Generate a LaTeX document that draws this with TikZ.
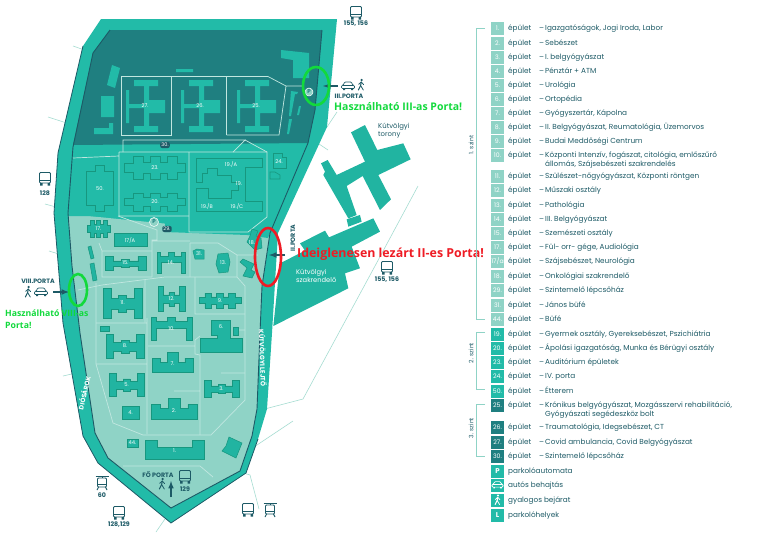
\documentclass[tikz,border=0pt]{standalone}
\usepackage{fontspec}
\setmainfont{Poppins}
\newfontfamily\notefont{Open Sans}
\definecolor{darkz}{HTML}{1F7F80}
\definecolor{midz}{HTML}{22BBA8}
\definecolor{lightz}{HTML}{8FD3C6}
\definecolor{inkc}{HTML}{1D5A66}
\definecolor{linec}{HTML}{17977F}
\definecolor{redn}{HTML}{EE1C25}
\definecolor{greenn}{HTML}{12D93C}
\colorlet{iconc}{inkc}
\tikzset{
	bldg/.style={fill=midz!96!black,draw=linec,line width=0.5},
	bldgm/.style={draw=linec,line width=0.6},
	road/.style={draw=lightz!55!white,line width=0.7},
	thin/.style={draw=lightz!80!white,line width=0.6},
	numlab/.style={text=white,font=\fontsize{5.2}{5.2}\selectfont,inner sep=0},
	portalab/.style={text=inkc,font=\fontsize{6.3}{6.3}\selectfont\bfseries,inner sep=0},
	roadlab/.style={text=white,font=\fontsize{6.4}{6.4}\selectfont\bfseries,inner sep=0},
	pillab/.style={circle,fill=lightz,draw=white,line width=0.5,text=darkz,font=\fontsize{5.5}{5.5}\selectfont\bfseries,inner sep=0,minimum size=9},
	octlab/.style={rounded corners=2,fill=inkc,text=white,font=\fontsize{5}{5}\selectfont,inner sep=1.2},
	entry/.style={text=inkc,font=\fontsize{7.3}{7.3}\selectfont,inner sep=0,anchor=base west},
	sqbox/.style={minimum size=13,inner sep=0,text=white,font=\fontsize{6.2}{6.2}\selectfont},
	entrance/.style={draw=inkc,line width=1.5,-latex},
	busicon/.pic={
		\draw[iconc,line width=0.9,rounded corners=1] (-5.5,-6.5) rectangle (5.5,4);
		\draw[iconc,line width=0.9] (-5.5,1) -- (5.5,1);
		\fill[iconc] (-5,4) rectangle (-2.5,6.5) (2.5,4) rectangle (5,6.5);},
	tramicon/.pic={
		\draw[iconc,line width=0.9,rounded corners=1] (-4.5,-5) rectangle (4.5,4);
		\draw[iconc,line width=0.9] (-4.5,1) -- (4.5,1) (-6.5,-7) -- (6.5,-7) (0,-7) -- (0,-5);
		\draw[iconc,line width=0.9] (-3.5,4) -- (-5,7) (3.5,4) -- (5,7);},
	caricon/.pic={
		\draw[iconc,line width=0.7,rounded corners=1] (-6.5,2.5) -- (-6.5,-0.5) -- (-4.5,-1) -- (-3.5,-4) -- (3.5,-4) -- (4.5,-1) -- (6.5,-0.5) -- (6.5,2.5) -- cycle;
		\draw[iconc,line width=0.7] (-5,-1) -- (5,-1);
		\fill[iconc] (-5,2.5) rectangle (-3,4) (3,2.5) rectangle (5,4);},
	walkicon/.pic={
		\fill[iconc] (0.6,-5) circle (1.2);
		\draw[iconc,line width=1,line cap=round] (0.3,-3) -- (-0.4,0.5) -- (-2.6,5);
		\draw[iconc,line width=0.8,line cap=round] (-0.4,0.5) -- (2.3,5) (0.3,-3) -- (-2.4,-0.6) (0.3,-3) -- (2.6,-0.4);},
}
\newcommand{\hblock}[6][bldg]{%
	\path[#1,shift={(#2,#3)},xscale=#4,yscale=#5] (-.5,-.5) -- (-.3,-.5) -- (-.3,-.15) -- (-.1,-.15) -- (-.1,-.25) -- (.1,-.25) -- (.1,-.15) -- (.3,-.15) -- (.3,-.5) -- (.5,-.5) -- (.5,.5) -- (.3,.5) -- (.3,.2) -- (.1,.2) -- (.1,.3) -- (-.1,.3) -- (-.1,.2) -- (-.3,.2) -- (-.3,.5) -- (-.5,.5) -- cycle;
	\node[numlab] at (#2,#3) {#6};}
\newcommand{\wblock}[6][bldg]{%
	\path[#1,shift={(#2,#3)},xscale=#4,yscale=#5] (-.5,-.2) -- (-.36,-.2) -- (-.36,-.5) -- (-.2,-.5) -- (-.2,-.25) -- (-.08,-.25) -- (-.08,-.5) -- (.08,-.5) -- (.08,-.25) -- (.2,-.25) -- (.2,-.5) -- (.36,-.5) -- (.36,-.2) -- (.5,-.2) -- (.5,.2) -- (.36,.2) -- (.36,.5) -- (.2,.5) -- (.2,.25) -- (.08,.25) -- (.08,.5) -- (-.08,.5) -- (-.08,.25) -- (-.2,.25) -- (-.2,.5) -- (-.36,.5) -- (-.36,.2) -- (-.5,.2) -- cycle;
	\node[numlab] at (#2,#3) {#6};}
\newcommand{\pblock}[6][bldg]{%
	\path[#1,shift={(#2,#3)},xscale=#4,yscale=#5] (-.5,-.5) -- (-.38,-.5) -- (-.38,-.3) -- (-.1,-.3) -- (-.1,-.5) -- (.1,-.5) -- (.1,-.3) -- (.38,-.3) -- (.38,-.5) -- (.5,-.5) -- (.5,.5) -- (.36,.5) -- (.36,0) -- (-.36,0) -- (-.36,.5) -- (-.5,.5) -- cycle;
	\node[numlab] at (#2,#3) {#6};}
\newcommand{\tblock}[6][bldg]{%
	\path[#1,shift={(#2,#3)},xscale=#4,yscale=#5] (-.5,-.2) -- (-.3,-.2) -- (-.3,0) -- (-.13,0) -- (-.13,-.5) -- (.13,-.5) -- (.13,0) -- (.3,0) -- (.3,-.2) -- (.5,-.2) -- (.5,.5) -- (-.5,.5) -- cycle;
	\node[numlab] at (#2,#3+2) {#6};}
\newcommand{\ublock}[6][bldg]{%
	\path[#1,shift={(#2,#3)},xscale=#4,yscale=#5] (-.5,-.5) -- (-.3,-.5) -- (-.3,-.12) -- (.3,-.12) -- (.3,-.5) -- (.5,-.5) -- (.5,.5) -- (-.5,.5) -- cycle;
	\node[numlab] at (#2,#3+1) {#6};}

\begin{document}
\begin{tikzpicture}[x=1pt,y=-1pt]
	\useasboundingbox (0,0) rectangle (768,536);
	% outside lines
	\draw[thin] (73,46) -- (93,53) (48,117) -- (76,126) (45,204) -- (67,210) (49,251) -- (72,258) (63,376) -- (76,373) (156,532) -- (167,516);
	\draw[thin] (337,112) -- (327,127) -- (310,140) (310,138) -- (328,150);
	\draw[thin] (418,186) -- (375,266) -- (303,399) -- (257,411) (293,421) -- (245,453) (230,469) -- (250,475) -- (259,509);
	% band
	\fill[midz] (101,19) -- (337,19) -- (327,127) -- (278,233) -- (272,333) -- (267,409) -- (258,439) -- (246,473) -- (171,523) -- (98,463) -- (83,436) -- (63,323) -- (54,213) -- (58,153) -- (83,46) -- cycle;
	\draw[inkc,line width=0.8] (83,46) -- (58,153) -- (54,213) -- (63,323) -- (83,436) -- (98,463) -- (171,523) -- (246,473) -- (258,439);
	% zones
	\fill[lightz] (68,214) -- (270,234) -- (262,286) -- (260,333) -- (257,409) -- (252,436) -- (240,471) -- (171,508) -- (108,458) -- (95,433) -- (80,333) -- (72,266) -- cycle;
	\fill[midz] (73,145) -- (308,143) -- (268,238) -- (247,235) -- (165,232) -- (165,216) -- (68,216) -- cycle;
	\fill[darkz] (110,30) -- (322,30) -- (315,110) -- (308,143) -- (73,145) -- (93,53) -- cycle;
	\draw[inkc,line width=0.9] (322,30) -- (315,110) -- (308,143) -- (270,233) -- (262,286) -- (260,333) -- (257,409) -- (252,436) -- (240,471) -- (171,508) -- (108,458) -- (95,433) -- (80,333) -- (72,266) -- (68,213) -- (73,147) -- (93,53) -- (110,30);
	% 3. level
	\draw[road] (121.3,76.5) rectangle (171.3,135) (171.3,76.5) -- (171.3,135) (226.7,76.5) -- (226.7,135);
	\draw[road] (171.3,76.5) -- (268,76.5) -- (286,86) -- (302,86) (286,86) -- (279,135) -- (226.7,135);
	\foreach \dx/\lab in {0/27.,55/26.,111/25.} {
		\begin{scope}[xshift=\dx]
			\fill[midz] (134,80) rectangle (158,86) (144,86) rectangle (149,126) (134,126) rectangle (158,132) (149,100) rectangle (165,113) (128,104) rectangle (144,108) (126,90) rectangle (129,123);
			\node[numlab] at (145,106) {\lab};
		\end{scope}}
	\fill[midz] (112,65) -- (120,68) -- (115,88) -- (107,85) -- cycle;
	\fill[midz] (101,96) rectangle (114,117) (176,69) rectangle (193,72);
	\fill[midz] (94,128) -- (109,128) -- (109,123) -- (113,123) -- (113,134) -- (94,134) -- cycle;
	\fill[midz] (281,50) -- (309,53) -- (309,78) -- (293,78) -- (293,60) -- (281,58) -- cycle;
	\fill[midz] (291,91) -- (298,92) -- (297,94) -- (295,94) -- (291,116) -- (289,116) -- cycle (289,119) -- (292,119) -- (289,134) -- (287,134) -- cycle (299,106) -- (301,106) -- (299,115) -- (297,115) -- cycle;
	\node[pillab,minimum size=8] (p3) at (309,92) {P};
	\node[octlab] (b30) at (165,145) {30.};
	% 2. level
	\draw[road] (123,152) -- (123,140) -- (245,140) -- (233,152);
	\draw[road] (245,140) -- (267,152) -- (267,217) -- (248,232) -- (189,232) -- (189,152);
	\draw[road] (119,152) -- (267,152) (119,152) -- (119,216) -- (189,216) (73,158) -- (119,156);
	\path[bldgm] (86,171) -- (95,171) -- (95,165) -- (104,165) -- (104,171) -- (113,171) -- (113,205) -- (104,205) -- (104,211) -- (95,211) -- (95,205) -- (86,205) -- cycle;
	\node[numlab] at (100,189) {50.};
	\wblock[bldgm]{155}{168}{61}{23}{23.}
	\wblock[bldgm]{155}{202}{61}{18}{20.}
	\path[bldgm] (196,158) -- (262,158) -- (262,167) -- (245,167) -- (245,201) -- (262,201) -- (262,211) -- (196,211) -- (196,188) -- (208,188) -- (208,198) -- (231,198) -- (231,190) -- (238,190) -- (238,182) -- (231,182) -- (231,175) -- (217,175) -- (217,168) -- (207,168) -- (207,173) -- (202,173) -- (202,182) -- (196,182) -- cycle;
	\node[numlab] at (231,164) {19./A};
	\node[numlab] at (239,184) {19.};
	\node[numlab] at (207,206) {19./B};
	\node[numlab] at (237,206) {19./C};
	\path[bldgm] (273,153) -- (282,153) -- (282,157) -- (286,157) -- (286,168) -- (273,168) -- cycle;
	\node[numlab] at (279,162) {24.};
	\path[bldgm] (270,172) -- (275,172) -- (280,175) -- (280,179) -- (270,179) -- cycle;
	% 1. level
	\draw[road] (118,216) -- (157,230) -- (157,240) -- (152,240) -- (152,277) (190,243) -- (190,277) (152,241) -- (190,241);
	\draw[road] (190,243) -- (218,243) -- (237,255) -- (258,255) (237,255) -- (237,277) -- (245,286) -- (245,400) -- (211,435) -- (143,435) -- (113,423) -- (96,364) -- (96,283);
	\draw[road] (78,290) -- (102,285) -- (165,277) -- (237,277) (99,243) -- (102,251) -- (152,251) (102,251) -- (102,277) -- (152,277);
	\draw[road] (145,280) -- (145,322) (96,323) -- (147,323) (147,318) -- (147,434) (96,364) -- (147,364) (195,277) -- (195,314) -- (245,314) (200,336) -- (195,340) -- (195,354) -- (200,355) -- (200,435) (148,346) -- (195,346) (174,391) -- (200,391) (221,373) -- (245,373) (239,330) -- (245,330) (123,466) -- (200,466) -- (213,477);
	\wblock{98.5}{228.5}{23}{17}{17.}
	\path[bldg] (114,233) rectangle (147,246);
	\node[numlab] at (130,240) {17/A};
	\path[bldg] (88,247) -- (91,246) -- (94,258) -- (91,259) -- cycle (90,264) -- (94,263) -- (97,280) -- (93,281) -- cycle;
	\hblock{125.5}{263}{41}{14}{15.}
	\pblock{171}{262.5}{28}{21}{14.}
	\path[bldg] (193,251) -- (197,249) -- (204,250) -- (204,259) -- (195,259) -- cycle;
	\node[numlab] at (199,254) {31.};
	\path[bldg] (218,254) -- (228,253) -- (230,262) -- (228,272) -- (219,273) -- (216,264) -- cycle;
	\node[numlab] at (223,263) {13.};
	\path[bldg] (252,229) -- (258,231) -- (256,236) -- (261,238) -- (262,248) -- (255,250) -- (247,242) -- (250,236) -- cycle;
	\node[numlab] at (252,243) {18.};
	\path[bldg] (240,262) -- (243,259) -- (254,264) -- (251,270) -- (255,272) -- (252,278) -- (243,276) -- (247,268) -- cycle;
	\hblock{122.5}{303}{39}{30}{11.}
	\hblock{171.5}{298.5}{27}{25}{12.}
	\wblock{220}{300.5}{42}{15}{9.}
	\pblock{171.5}{328.5}{41}{23}{10.}
	\path[bldg] (211,320) -- (230,320) -- (230,338) -- (242,338) -- (242,352) -- (200,352) -- (200,338) -- (217,338) -- (217,335) -- (211,335) -- cycle;
	\node[numlab] at (221,327) {6.};
	\path[bldg] (233,327) rectangle (238,335) (100,326) rectangle (109,331);
	\hblock{125}{346}{38}{24}{8.}
	\tblock{172.5}{362}{41}{20}{7.}
	\hblock{126.5}{384.5}{35}{23}{5.}
	\hblock{221.5}{388.5}{35}{17}{3.}
	\path[bldg] (122,406) rectangle (139,419);
	\node[numlab] at (130.5,413) {4.};
	\tblock{174}{408.5}{46}{21}{2.}
	\path[bldg] (127,439) rectangle (138,447);
	\node[numlab] at (132.5,443) {44.};
	\ublock{174.5}{449.5}{59}{19}{1.}
	\path[bldg] (229,437) -- (242,443) -- (236,458) -- (222,451) -- (226,446) -- cycle;
	\node[pillab] (p2) at (154,222) {P};
	\node[octlab] (b29) at (167,229) {29.};
	% road names
	\node[roadlab,rotate=77] (diosarok) at (84,393) {DIÓSÁROK};
	\node[roadlab,rotate=-88] (lejto) at (263,358) {KÚTVÖLGYI LEJTŐ};
	% right hand block
	\begin{scope}[shift={(265,100)},scale=0.3333]
		\fill[midz!96!black] (258,97) -- (300,75) -- (337,150) -- (415,130) -- (437,178) -- (340,225) -- (378,298) -- (345,330) -- (293,228) -- (245,258) -- (275,345) -- (250,355) -- (175,225) -- (180,215) -- (168,190) -- (188,180) -- (215,225) -- (300,185) -- cycle;
		\fill[midz!96!black] (245,358) -- (285,345) -- (290,365) -- (250,380) -- cycle;
		\fill[midz!96!black] (105,430) -- (180,392) -- (192,412) -- (325,355) -- (345,395) -- (260,440) -- (285,505) -- (240,520) -- (250,565) -- (25,678) -- (45,490) -- (120,452) -- cycle;
	\end{scope}
	\node[text=inkc,font=\fontsize{6.9}{8}\selectfont,inner sep=0,anchor=north west,align=left] (torony) at (378,123) {Kútvölgyi\\torony};
	\node[text=white,font=\fontsize{6.7}{8.5}\selectfont,inner sep=0,anchor=north west,align=left] (szakr) at (296,269) {Kútvölgyi\\szakrendelő};
	% portas
	\draw[entrance] (338,86) -- (323,86);
	\draw[entrance] (285,255) -- (269,255);
	\draw[entrance] (53,292) -- (69,292);
	\draw[entrance] (171,497) -- (171,481);
	\pic at (348,86) {caricon};
	\pic at (361,85) {walkicon};
	\pic at (41,292) {caricon};
	\pic at (28,292) {walkicon};
	\pic at (162,484) {walkicon};
	\node[portalab] (porta3) at (349,96) {III.PORTA};
	\node[portalab,rotate=90] (porta2) at (293,238) {II.PORTA};
	\node[portalab] (porta8) at (38,281) {VIII.PORTA};
	\node[portalab] (porta1) at (158,475) {FŐ PORTA};
	\pic at (356,13) {busicon};
	\node[portalab] (s155a) at (356,24) {155, 156};
	\pic at (387,268) {busicon};
	\node[portalab] (s155b) at (387,280) {155, 156};
	\pic at (45,179) {busicon};
	\node[portalab] (s128) at (45,193) {128};
	\pic at (185,477) {busicon};
	\node[portalab] (s129) at (185,489) {129};
	\pic at (102,483) {tramicon};
	\node[portalab] (s60) at (102,495) {60};
	\pic at (119,513) {busicon};
	\node[portalab] (s128b) at (119,525) {128,129};
	\pic at (248,510) {busicon};
	\pic at (270,510) {tramicon};
	% notes
	\draw[greenn,line width=2.6] (316,86) ellipse [x radius=13,y radius=19];
	\draw[greenn,line width=2.6] (78,290) ellipse [x radius=9,y radius=16];
	\draw[redn,line width=2.6] (268,257) ellipse [x radius=13,y radius=29];
	\node[text=greenn,font=\notefont\fontsize{10.5}{10.5}\selectfont\bfseries,inner sep=0,anchor=west] (note3) at (334,107) {Használható III-as Porta!};
	\node[text=redn,font=\notefont\fontsize{12.4}{12.4}\selectfont\bfseries,inner sep=0,anchor=west] (note2) at (297,254) {Ideiglenesen lezárt II-es Porta!};
	\node[text=greenn,font=\notefont\fontsize{8.7}{12}\selectfont\bfseries,inner sep=0,anchor=north west,align=left] (note8) at (5,310) {Használható VIII-as\\Porta!};
	% legend
	\draw[lightz,line width=0.7] (485,28) -- (476,28) -- (476,319) -- (485,319);
	\draw[lightz,line width=0.7] (485,332) -- (476,332) -- (476,389) -- (485,389);
	\draw[lightz,line width=0.7] (485,404) -- (476,404) -- (476,456) -- (485,456);
	\node[entry,anchor=center,rotate=90,font=\fontsize{6}{6}\selectfont] (sz1) at (471,145) {1. szint};
	\node[entry,anchor=center,rotate=90,font=\fontsize{6}{6}\selectfont] (sz2) at (471,353) {2. szint};
	\node[entry,anchor=center,rotate=90,font=\fontsize{6}{6}\selectfont] (sz3) at (471,428) {3. szint};
	\foreach \lab/\yy/\col/\txt in {
		1./28/lightz/{Igazgatóságok, Jogi Iroda, Labor},
		2./43/lightz/{Sebészet},
		3./57/lightz/{I. belgyógyászat},
		4./71/lightz/{Pénztár + ATM},
		5./85/lightz/{Urológia},
		6./99/lightz/{Ortopédia},
		7./113/lightz/{Gyógyszertár, Kápolna},
		8./127/lightz/{II. Belgyógyászat, Reumatológia, Üzemorvos},
		9./141/lightz/{Budai Meddőségi Centrum},
		10./155/lightz/{Központi Intenzív, fogászat, citológia, emlőszűrő},
		11./176/lightz/{Szülészet-nőgyógyászat, Központi röntgen},
		12./190/lightz/{Műszaki osztály},
		13./205/lightz/{Pathológia},
		14./219/lightz/{III. Belgyógyászat},
		15./233/lightz/{Szemészeti osztály},
		17./247/lightz/{Fül- orr- gége, Audiológia},
		{17/a}/261/lightz/{Szájsebészet, Neurológia},
		18./276/lightz/{Onkológiai szakrendelő},
		29./290/lightz/{Szintemelő lépcsőház},
		31./305/lightz/{János büfé},
		44./319/lightz/{Büfé},
		19./334/midz/{Gyermek osztály, Gyereksebészet, Pszichiátria},
		20./348/midz/{Ápolási igazgatóság, Munka és Bérügyi osztály},
		23./362/midz/{Auditórium épületek},
		24./376/midz/{IV. porta},
		50./391/midz/{Étterem},
		25./405/darkz/{Krónikus belgyógyászat, Mozgásszervi rehabilitáció,},
		26./427/darkz/{Traumatológia, Idegsebészet, CT},
		27./442/darkz/{Covid ambulancia, Covid Belgyógyászat},
		30./456/darkz/{Szintemelő lépcsőház}} {
		\node[sqbox,fill=\col] at (497.5,\yy) {\lab};
		\node[entry] at (508,\yy+2.4) {épület};
		\node[entry] at (539,\yy+2.4) {--};
		\node[entry] at (545,\yy+2.4) {\txt};}
	\node[entry] (t10) at (545,166) {állomás, Szájsebészeti szakrendelés};
	\node[entry] (t25) at (545,416.5) {Gyógyászati segédeszköz bolt};
	\node[sqbox,fill=midz,font=\fontsize{7}{7}\selectfont\bfseries] (lgp) at (497.5,471) {P};
	\node[entry] (tp) at (508,473.4) {parkolóautomata};
	\node[sqbox,fill=midz] (lgc) at (497.5,485) {};
	\node[entry] (tc) at (508,487.4) {autós behajtás};
	\node[sqbox,fill=midz] (lgw) at (497.5,500) {};
	\node[entry] (tw) at (508,502.4) {gyalogos bejárat};
	\node[sqbox,fill=midz,font=\fontsize{7}{7}\selectfont\bfseries] (lgl) at (497.5,515) {L};
	\node[entry] (tl) at (508,517.4) {parkolóhelyek};
	\begin{scope}
		\colorlet{iconc}{white}
		\pic[scale=0.85] at (497.5,485) {caricon};
		\pic[scale=0.9] at (497.5,500) {walkicon};
	\end{scope}
\end{tikzpicture}
\end{document}
